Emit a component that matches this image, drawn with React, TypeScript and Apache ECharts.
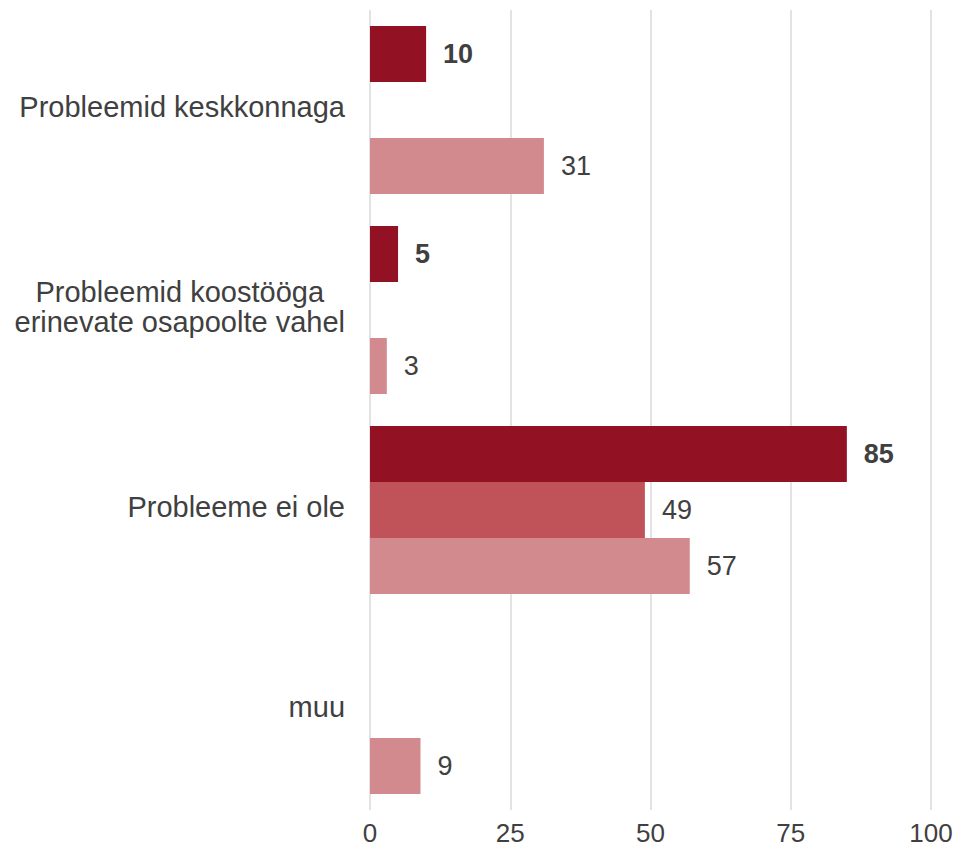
import React, { useEffect, useRef } from "react";
import * as echarts from "echarts";

const categories = [
  "Probleemid keskkonnaga",
  "Probleemid koostööga\nerinevate osapoolte vahel",
  "Probleeme ei ole",
  "muu",
];
const seriesNames = ["Rühm 1", "Rühm 2", "Rühm 3"];
const series1 = [10, 5, 85, null];
const series2 = [null, null, 49, null];
const series3 = [31, 3, 57, 9];
const xTicks = [0, 25, 50, 75, 100];

const colors = ["#921224", "#C0535A", "#D38A8F"];
const textColor = "#404040";
const fontFamily = "'Liberation Sans', Arial, Helvetica, sans-serif";

export default function App() {
  const ref = useRef<HTMLDivElement>(null);
  useEffect(() => {
    document.body.style.margin = "0";
    if (!ref.current) return;
    const chart = echarts.init(ref.current, undefined, { renderer: "svg" });
    const data = [series1, series2, series3];
    chart.setOption({
      animation: false,
      backgroundColor: "#ffffff",
      grid: { left: 370, right: 26, top: 10, bottom: 37, containLabel: false },
      xAxis: {
        type: "value",
        min: xTicks[0],
        max: xTicks[xTicks.length - 1],
        interval: 25,
        axisLine: { show: false },
        axisTick: { show: false },
        axisLabel: { color: textColor, fontSize: 26, fontFamily, margin: 10 },
        splitLine: { show: true, lineStyle: { color: "#E3E3E3", width: 2 } },
      },
      yAxis: {
        type: "category",
        data: categories,
        inverse: true,
        axisLine: { show: false },
        axisTick: { show: false },
        axisLabel: {
          color: textColor,
          fontSize: 29,
          fontFamily,
          margin: 25,
          lineHeight: 30,
          padding: [0, 0, 6, 0],
          formatter: (v: string) =>
            v
              .split("\n")
              .map((l) => "{c|" + l + "}")
              .join("\n"),
          rich: {
            c: {
              align: "center",
              color: textColor,
              fontSize: 29,
              fontFamily,
              lineHeight: 30,
            },
          },
        },
      },
      series: data.map((d, i) => ({
        name: seriesNames[i],
        type: "bar",
        data: d.map((v) => (v === null ? "-" : v)),
        barGap: "0%",
        barCategoryGap: "16%",
        itemStyle: { color: colors[i] },
        label: {
          show: true,
          position: "right",
          distance: 17,
          padding: [0, 0, 6, 0],
          color: textColor,
          fontSize: 27,
          fontFamily,
          fontWeight: i === 0 ? "bold" : "normal",
        },
      })),
    });
    return () => chart.dispose();
  }, []);
  return <div ref={ref} style={{ width: 957, height: 847 }} />;
}
